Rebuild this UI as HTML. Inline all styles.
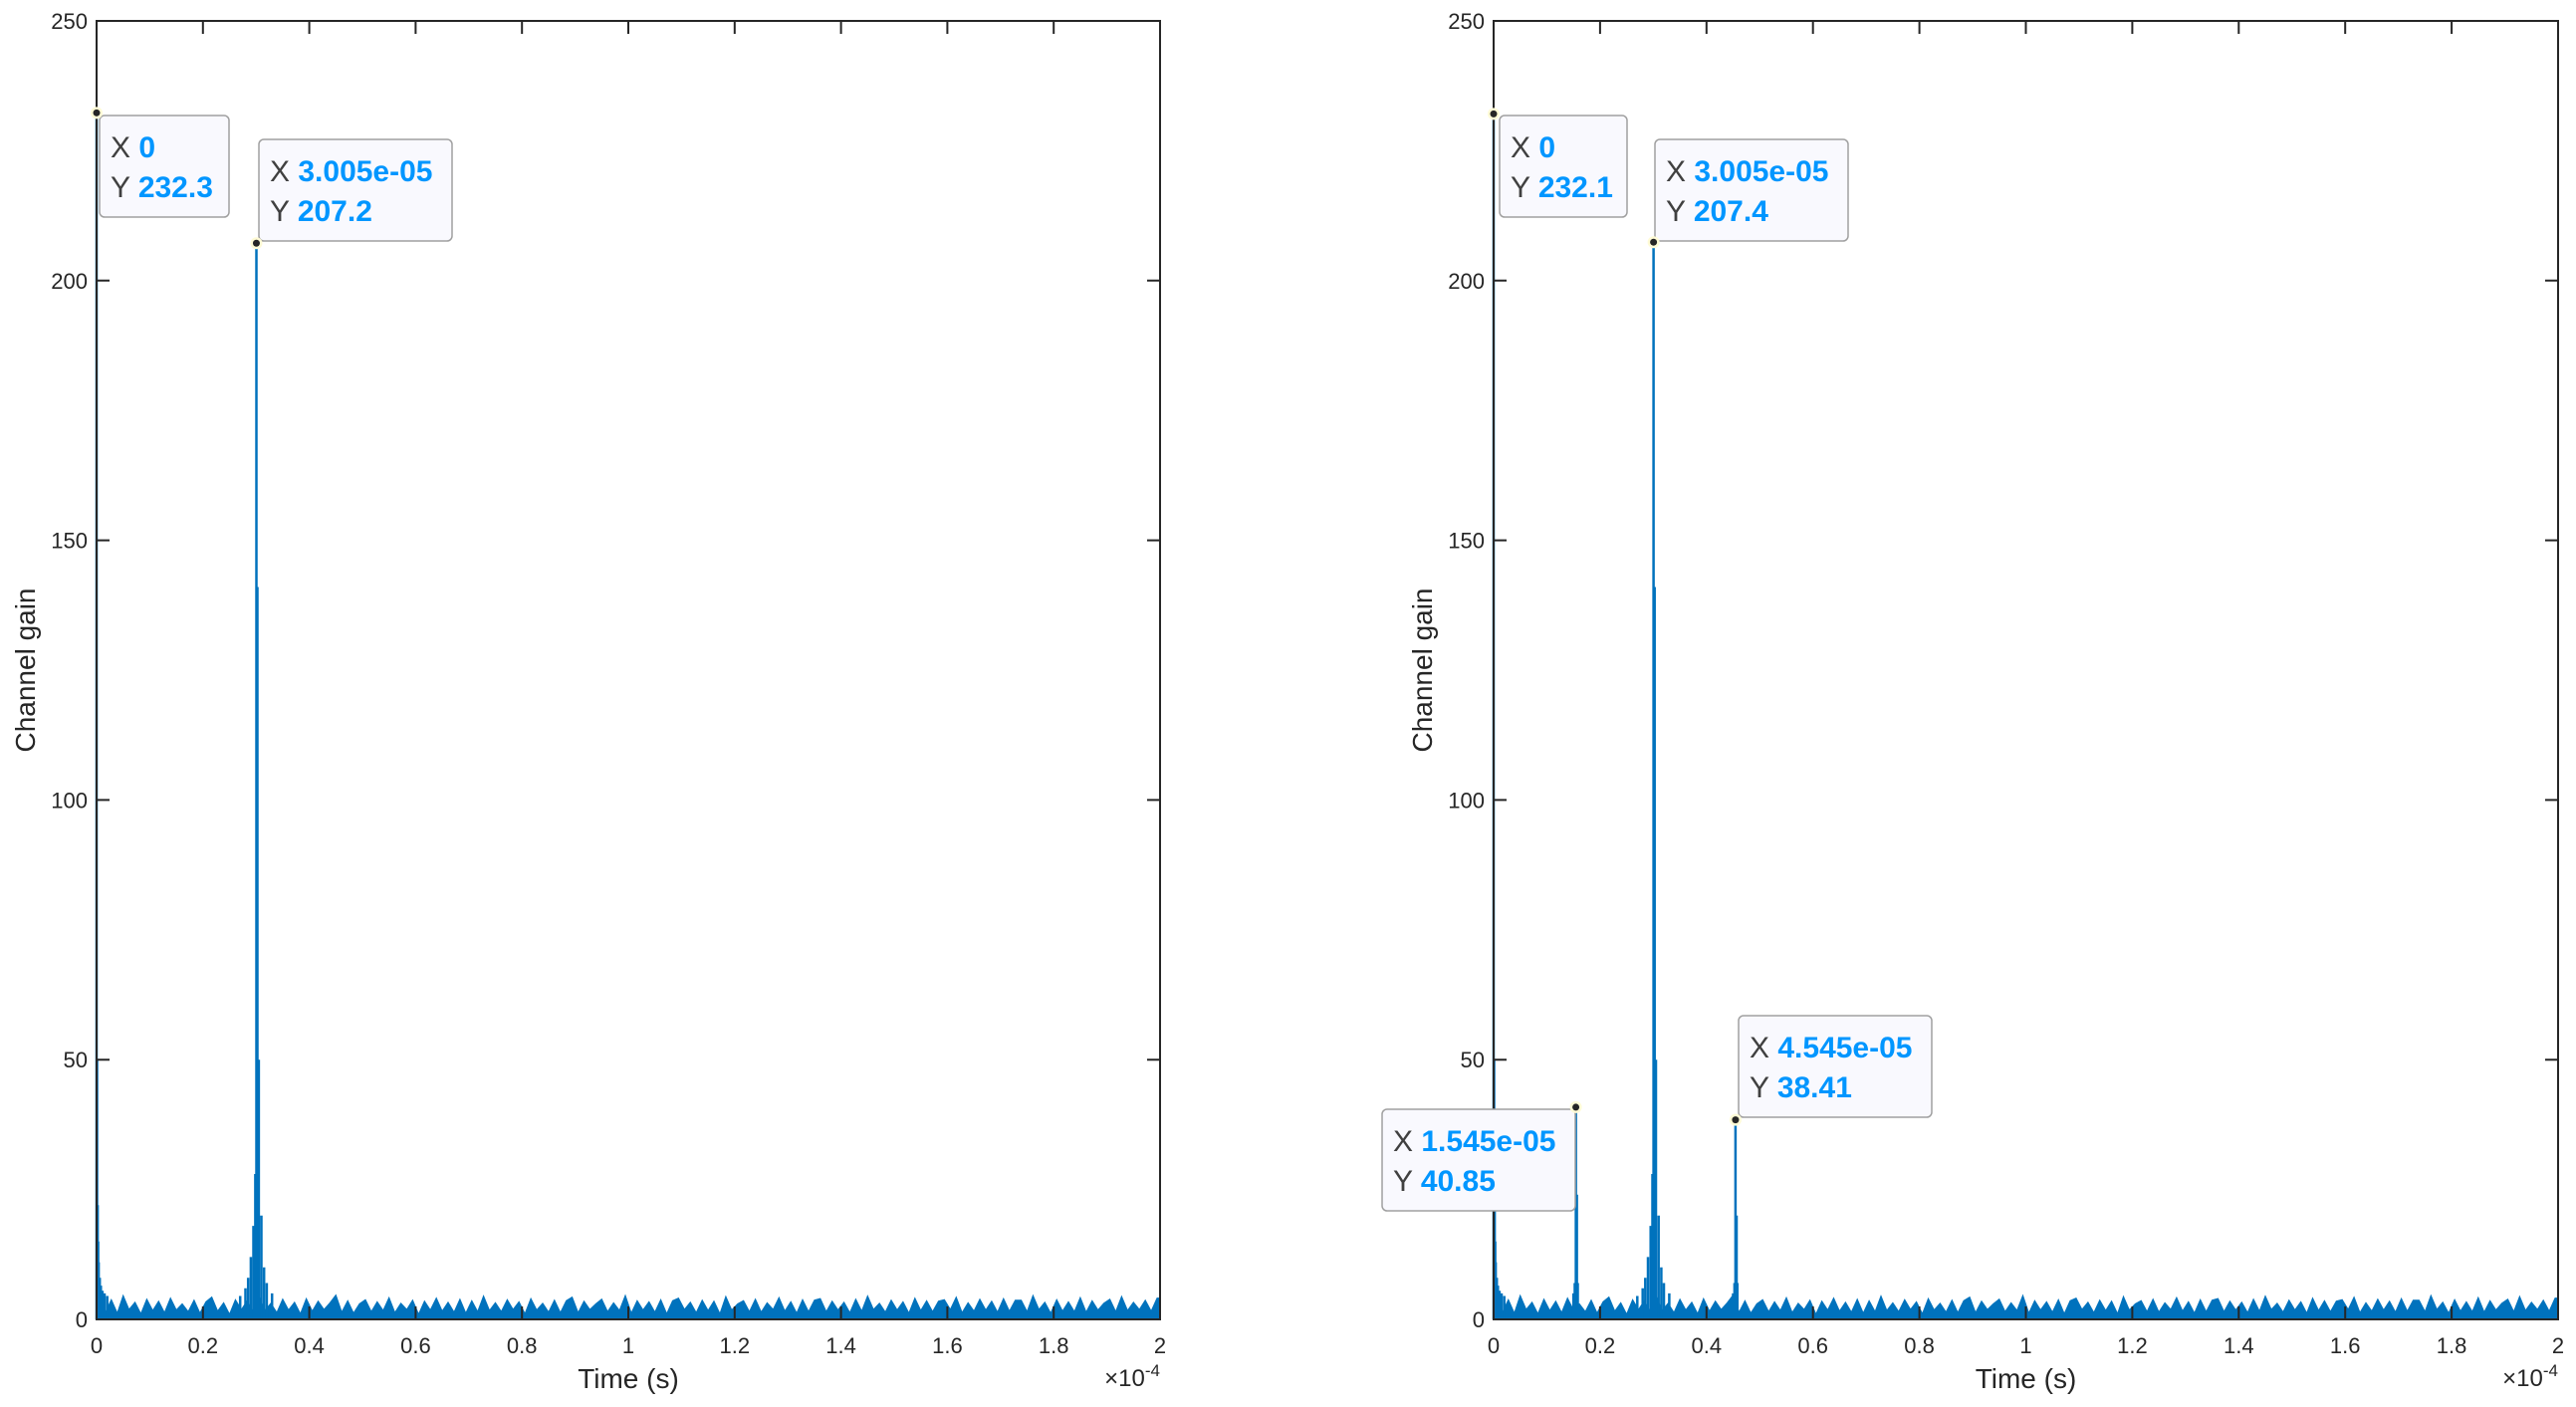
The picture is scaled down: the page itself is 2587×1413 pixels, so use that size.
<!DOCTYPE html>
<html><head><meta charset="utf-8"><style>
html,body{margin:0;padding:0;background:#fff;}
svg{display:block;font-family:"Liberation Sans",Arial,sans-serif;}
</style></head><body>
<svg id="chart" width="2587" height="1413" viewBox="0 0 2587 1413" xmlns="http://www.w3.org/2000/svg"></svg>
<script>
// x values in units of 1e-4 s
const xTicks=[0,0.2,0.4,0.6,0.8,1,1.2,1.4,1.6,1.8,2];
const xTickLabels=["0","0.2","0.4","0.6","0.8","1","1.2","1.4","1.6","1.8","2"];
const yTicks=[0,50,100,150,200,250];
const yTickLabels=["0","50","100","150","200","250"];
const noise=[3.1,1.4,3.8,1.2,4.6,1.9,3.3,1.1,3.9,1.7,3.5,1.3,4.1,1.8,3.0,1.5,3.7,1.2,3.4,4.3,1.6,3.2,1.0,3.8,1.9,3.6,1.4,4.4,1.7,3.1,
1.3,3.9,1.8,3.3,1.1,4.0,1.6,3.5,1.9,3.2,4.7,1.4,3.6,1.2,3.0,3.8,1.5,3.4,1.7,4.2,1.3,3.1,1.9,3.7,1.0,3.5,1.8,4.1,1.6,3.3,
1.4,3.9,1.2,3.6,1.5,4.5,1.7,3.2,1.5,3.8,1.9,3.4,1.1,4.0,1.8,3.1,1.4,3.7,1.3,3.6,4.3,1.3,3.5,1.9,3.0,3.9,1.5,3.2,1.7,4.6,
1.2,3.6,1.8,3.4,1.4,3.8,1.1,3.6,4.1,1.9,3.3,1.3,3.7,1.7,3.5,1.1,4.4,1.8,3.0,3.6,1.5,3.9,1.4,3.2,1.9,4.2,1.6,3.4,1.2,3.8,
1.5,3.7,4.0,1.5,3.5,1.8,3.3,1.3,3.9,1.6,4.5,1.9,3.1,1.4,3.7,1.8,3.4,1.2,4.1,1.7,3.6,1.5,3.5,3.8,1.9,4.3,1.3,3.2,1.6,3.9,
1.8,3.5,1.4,4.0,1.6,3.7,3.7,1.5,4.6,1.9,3.3,1.2,3.8,1.6,3.4,1.5,4.2,1.4,3.6,1.8,3.1,3.9,1.5,4.4,1.7,3.3,1.9,3.7,1.6,4.1];
// peak samples (time x1e-4, gain)
const peakT_L=[0,0.001,0.002,0.003,0.004,0.006,0.008,0.011,0.015,0.02,0.27,0.28,0.285,0.29,0.295,0.2985,0.3005,0.3025,0.305,0.31,0.315,0.32,0.33];
const peakV_L=[232.3,50,22,15,11,8,6.5,5.5,5,4.5,4.5,6,8,12,18,28,207.2,141,50,20,10,7,5];
const peakT_R=[0,0.001,0.002,0.003,0.004,0.006,0.008,0.011,0.015,0.02,0.15,0.1525,0.1545,0.1565,0.158,0.27,0.28,0.285,0.29,0.295,0.2985,0.3005,0.3025,0.305,0.31,0.315,0.32,0.33,0.45,0.4525,0.4545,0.4565,0.458];
const peakV_R=[232.1,50,22,15,11,8,6.5,5.5,5,4.5,5,7,40.85,24,7,4.5,6,8,12,18,28,207.4,141,50,20,10,7,5,5,7,38.41,20,7];
const tipsL=[{x:0,y:232.3,xs:"0",ys:"232.3",bx:100,by:116,bw:130,bh:102},{x:0.3005,y:207.2,xs:"3.005e-05",ys:"207.2",bx:260,by:140,bw:194,bh:102}];
const tipsR=[{x:0,y:232.1,xs:"0",ys:"232.1",bx:1506,by:116,bw:128,bh:102},{x:0.3005,y:207.4,xs:"3.005e-05",ys:"207.4",bx:1662,by:140,bw:194,bh:102},
{x:0.1545,y:40.85,xs:"1.545e-05",ys:"40.85",bx:1388,by:1114,bw:194,bh:102},{x:0.4545,y:38.41,xs:"4.545e-05",ys:"38.41",bx:1746,by:1020,bw:194,bh:102}];

const NS="http://www.w3.org/2000/svg";
const svg=document.getElementById('chart');
function mk(tag,attrs,parent){const e=document.createElementNS(NS,tag);for(const k in attrs)e.setAttribute(k,attrs[k]);(parent||svg).appendChild(e);return e;}

function panel(id,L,R,T,B,pT,pV,tips){
  const g=mk('g',{});
  
  
  const sx=v=>L+(v/2)*(R-L);
  const sy=v=>B-(v/250)*(B-T);
  // noise area
  let d=`M${L},${B}`;
  for(let i=0;i<noise.length;i++){const x=sx((i+0.5)*2/noise.length);d+=`L${x.toFixed(1)},${sy(noise[i]).toFixed(1)}`;}
  d+=`L${R},${sy(noise[noise.length-1]).toFixed(1)}L${R},${B}Z`;
  const nz=mk('path',{d:d,fill:'#0072bd',stroke:'#0072bd','stroke-width':1},g);
  
  
  let pd='';
  for(let i=0;i<pT.length;i++){pd+=`M${sx(pT[i]).toFixed(1)},${B}V${sy(pV[i]).toFixed(1)}`;}
  const pk=mk('path',{d:pd,stroke:'#0072bd','stroke-width':2.5,fill:'none'},g);
  
  
  const box=mk('rect',{x:L,y:T,width:R-L,height:B-T,fill:'none',stroke:'#262626','stroke-width':2},g);
  
  
  xTicks.forEach((v,i)=>{
    const x=sx(v);
    mk('path',{d:`M${x},${B}v-13M${x},${T}v13`,stroke:'#262626','stroke-width':2},g);
    const t=mk('text',{x:x,y:B+34,'text-anchor':'middle','font-size':22,fill:'#262626'},g);
    t.textContent=xTickLabels[i];
    
    
  });
  yTicks.forEach((v,i)=>{
    const y=sy(v);
    mk('path',{d:`M${L},${y}h13M${R},${y}h-13`,stroke:'#262626','stroke-width':2},g);
    const t=mk('text',{x:L-9,y:y+8,'text-anchor':'end','font-size':22,fill:'#262626'},g);
    t.textContent=yTickLabels[i];
    
    
  });
  const xl=mk('text',{x:(L+R)/2,y:1394,'text-anchor':'middle','font-size':28,fill:'#262626'},g);
  xl.textContent='Time (s)';
  
  
  const yl=mk('text',{x:0,y:0,'text-anchor':'middle','font-size':28,fill:'#262626',transform:`translate(${L-62},${(T+B)/2}) rotate(-90)`},g);
  yl.textContent='Channel gain';
  
  
  const ex=mk('text',{x:R,y:1392,'text-anchor':'end','font-size':24,fill:'#262626'},g);
  ex.innerHTML='×10<tspan dy="-10" font-size="17">-4</tspan>';
  
  
  tips.forEach(tp=>{
    const tg=mk('g',{},g);
    
    
    mk('rect',{x:tp.bx,y:tp.by,width:tp.bw,height:tp.bh,rx:5,fill:'#f9f9fe',stroke:'#a0a0a0','stroke-width':1.5},tg);
    const px=sx(tp.x),py=sy(tp.y);
    mk('circle',{cx:px,cy:py,r:6,fill:'#fffbd6'},tg);
    mk('circle',{cx:px,cy:py,r:3.5,fill:'#262626'},tg);
    const t1=mk('text',{x:tp.bx+11,y:tp.by+42,'font-size':30,fill:'#404040'},tg);
    t1.innerHTML=`X <tspan font-weight="bold" fill="#0096ff">${tp.xs}</tspan>`;
    const t2=mk('text',{x:tp.bx+11,y:tp.by+82,'font-size':30,fill:'#404040'},tg);
    t2.innerHTML=`Y <tspan font-weight="bold" fill="#0096ff">${tp.ys}</tspan>`;
  });
}
panel('left-panel',97,1165,21,1325,peakT_L,peakV_L,tipsL);
panel('right-panel',1500,2569,21,1325,peakT_R,peakV_R,tipsR);
</script>
</body></html>
